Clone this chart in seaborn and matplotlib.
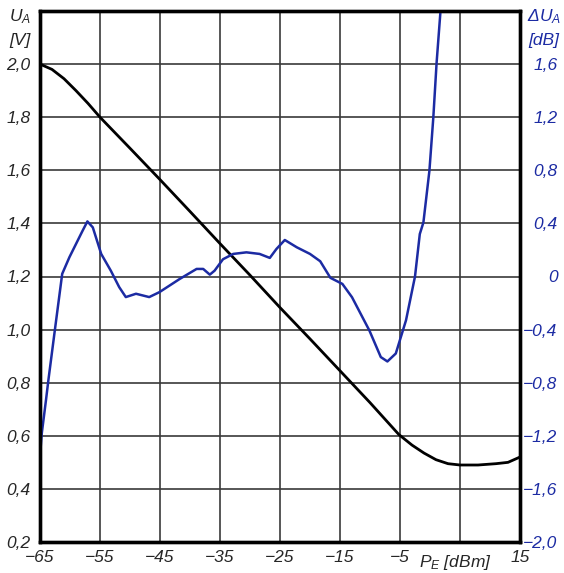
import numpy as np
import pandas as pd
import matplotlib
matplotlib.use("Agg")
import matplotlib.pyplot as plt
import seaborn as sns

# ---- data ----
pe_black = [-65, -63, -61, -59, -57, -55, -50, -45, -40, -35, -30, -25, -20, -15, -10,
            -5.2, -3, -1, 1, 3, 5, 8, 11, 13, 15]
ua_black = [2.00, 1.98, 1.945, 1.90, 1.852, 1.80, 1.683, 1.565, 1.445, 1.324, 1.205,
            1.083, 0.965, 0.845, 0.725, 0.605, 0.565, 0.535, 0.51, 0.495, 0.49, 0.49,
            0.495, 0.50, 0.52]

pe_blue = [-65, -64.7, -64.0, -63.6, -62.6, -61.3, -60.1, -59.0, -57.9, -57.1, -56.2,
           -54.8, -53.2, -51.8, -50.7, -49.0, -46.8, -45.1, -41.7, -38.9, -37.8, -36.7,
           -35.9, -34.5, -32.8, -30.6, -28.4, -26.7, -25.6, -24.2, -22.2, -20.0, -18.3,
           -16.6, -14.6, -13.0, -10.1, -8.2, -7.1, -5.7, -4.0, -2.5, -1.7, -1.1, -0.1,
           0.55, 1.1, 1.7, 1.9]
du_blue = [-1.35, -1.18, -0.93, -0.78, -0.43, 0.02, 0.145, 0.245, 0.345, 0.415, 0.37,
           0.17, 0.044, -0.08, -0.155, -0.13, -0.155, -0.118, -0.018, 0.057, 0.057, 0.014,
           0.044, 0.13, 0.17, 0.182, 0.17, 0.14, 0.207, 0.275, 0.22, 0.17, 0.115,
           -0.01, -0.056, -0.156, -0.407, -0.607, -0.64, -0.58, -0.33, 0.0, 0.32, 0.407,
           0.796, 1.196, 1.61, 1.97, 2.1]

x_ticks = [-65, -55, -45, -35, -25, -15, -5, 5, 15]
x_labels = ["\u221265", "\u221255", "\u221245", "\u221235", "\u221225", "\u221215", "\u22125", "", "15"]
y_ticks = [0.2, 0.4, 0.6, 0.8, 1.0, 1.2, 1.4, 1.6, 1.8, 2.0]
y_labels = ["0,2", "0,4", "0,6", "0,8", "1,0", "1,2", "1,4", "1,6", "1,8", "2,0"]
y2_ticks = [-2.0, -1.6, -1.2, -0.8, -0.4, 0.0, 0.4, 0.8, 1.2, 1.6]
y2_labels = ["\u22122,0", "\u22121,6", "\u22121,2", "\u22120,8", "\u22120,4", "0", "0,4", "0,8", "1,2", "1,6"]

df_black = pd.DataFrame({"PE": pe_black, "UA": ua_black})
df_blue = pd.DataFrame({"PE": pe_blue, "dUA": du_blue})

sns.set_style("white")
FAM = ["Liberation Sans", "DejaVu Sans"]
plt.rcParams["font.family"] = FAM
plt.rcParams["font.style"] = "italic"
plt.rcParams["mathtext.fontset"] = "custom"
plt.rcParams["mathtext.it"] = "Liberation Sans:italic"
plt.rcParams["mathtext.rm"] = "Liberation Sans:italic"

BLUE = "#1c2ba3"
FS = 12.5

fig = plt.figure(figsize=(5.64, 5.73), dpi=100)
ax = fig.add_axes([40 / 564, 1 - 542 / 573, 480 / 564, 531 / 573])
ax2 = ax.twinx()

sns.lineplot(data=df_black, x="PE", y="UA", ax=ax, color="black", linewidth=2.0, sort=False)
sns.lineplot(data=df_blue, x="PE", y="dUA", ax=ax2, color=BLUE, linewidth=1.8, sort=False)

ax.set_xlim(-65, 15)
ax.set_ylim(0.2, 2.2)
ax2.set_ylim(-2.0, 2.0)

ax.set_xticks(x_ticks)
ax.set_xticklabels(x_labels, fontsize=FS, style="italic")
ax.set_yticks(y_ticks)
ax.set_yticklabels(y_labels, fontsize=FS, style="italic")
ax2.set_yticks(y2_ticks)
ax2.set_yticklabels(y2_labels, fontsize=FS, style="italic", color=BLUE, ha="right")

ax.tick_params(axis="x", length=0, pad=6)
ax.tick_params(axis="y", length=0, pad=7)
ax2.tick_params(axis="y", length=0, pad=27)

ax.set_xlabel("")
ax.set_ylabel("")
ax2.set_ylabel("")

ax.grid(True, color="#3a3a3a", linewidth=1.2)
ax.set_axisbelow(True)
ax2.grid(False)

for a in (ax, ax2):
    for s in a.spines.values():
        s.set_linewidth(2.4)
        s.set_color("black")

# axis titles
fig.text(20 / 564, 1 - 17 / 573, "$U_A$", fontsize=FS, ha="center", va="center")
fig.text(20 / 564, 1 - 40 / 573, "[V]", fontsize=FS, ha="center", va="center")
fig.text(544 / 564, 1 - 17 / 573, "\u0394$U_A$", fontsize=FS, ha="center", va="center", color=BLUE)
fig.text(544 / 564, 1 - 40 / 573, "[dB]", fontsize=FS, ha="center", va="center", color=BLUE)
fig.text(455 / 564, 1 - 562 / 573, "$P_E$ [dBm]", fontsize=FS, ha="center", va="center")

fig.savefig("out.png", dpi=100)
